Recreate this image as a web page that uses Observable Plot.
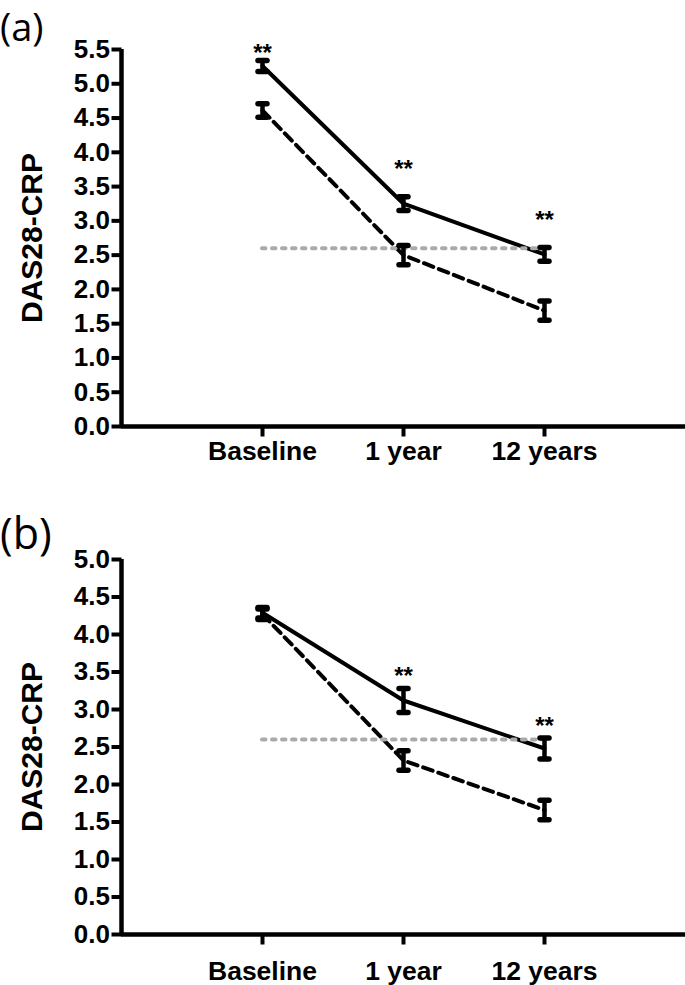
<!DOCTYPE html>
<html>
<head>
<meta charset="utf-8">
<script src="https://cdn.jsdelivr.net/npm/d3@7"></script>
<script src="https://cdn.jsdelivr.net/npm/@observablehq/plot@0.6"></script>
<style>
  body { margin: 0; background: white; }
  #fig { position: relative; width: 685px; height: 985px; background: white; overflow: hidden; }
  .plabel { position: absolute; left: 0; font-family: "Open Sans", sans-serif; color: black; }
  .panel { position: absolute; left: 0; }
</style>
</head>
<body>
<div id="fig">
  <div id="pa" class="panel" style="top:0px"></div>
  <div id="pb" class="panel" style="top:495px"></div>
  <div class="plabel" style="top:0px;font-size:38px;line-height:52px">(a)</div>
  <div class="plabel" style="top:503px;font-size:43px;line-height:59px">(b)</div>
</div>
<script>
// ---- data ----
const categories = ["Baseline", "1 year", "12 years"];
const yTitle = "DAS28-CRP";
const threshold = 2.6;

// panel (a)
const aSolidMean = [5.26, 3.25, 2.51];
const aSolidErr = [0.08, 0.10, 0.10];
const aDashedMean = [4.61, 2.50, 1.69];
const aDashedErr = [0.10, 0.14, 0.14];
const aStarIdx = [0, 1, 2];
const aStarY = [5.53, 3.84, 3.09];
const aYMax = 5.5;

// panel (b)
const bSolidMean = [4.29, 3.12, 2.48];
const bSolidErr = [0.07, 0.16, 0.14];
const bDashedMean = [4.27, 2.32, 1.66];
const bDashedErr = [0.07, 0.13, 0.13];
const bStarIdx = [1, 2];
const bStarY = [3.52, 2.85];
const bYMax = 5.0;

const FONT = "'Liberation Sans', Arial, sans-serif";

const capSymbol = { draw(ctx) { ctx.moveTo(-4.5, 0); ctx.lineTo(4.5, 0); } };
const yTickSymbol = { draw(ctx) { ctx.moveTo(-10, 0); ctx.lineTo(0, 0); } };
const xTickSymbol = { draw(ctx) { ctx.moveTo(0, 0); ctx.lineTo(0, 10); } };

function panel({solidMean, solidErr, dashedMean, dashedErr, starIdx, starY, yMax, height, marginTop, marginBottom, xPad}) {
  const solid = categories.map((c, i) => ({i, m: solidMean[i], e: solidErr[i]}));
  const dashed = categories.map((c, i) => ({i, m: dashedMean[i], e: dashedErr[i]}));
  const all = solid.concat(dashed);
  const caps = all.flatMap(d => [{i: d.i, y: d.m - d.e}, {i: d.i, y: d.m + d.e}]);
  const stars = starIdx.map((i, k) => ({i, y: starY[k]}));
  const yTicks = d3.range(0, yMax + 0.01, 0.5);
  const xTicks = categories.map((c, i) => i);
  return Plot.plot({
    width: 685,
    height,
    marginLeft: 121,
    marginRight: 0,
    marginTop,
    marginBottom,
    style: {fontFamily: FONT, color: "black", background: "white", overflow: "visible"},
    x: {domain: [-1, 3]},
    y: {domain: [0, yMax]},
    marks: [
      Plot.line(solid, {x: "i", y: "m", stroke: "black", strokeWidth: 4}),
      Plot.line(dashed, {x: "i", y: "m", stroke: "black", strokeWidth: 4, strokeDasharray: "10,6"}),
      Plot.ruleY([threshold], {x1: 0, x2: 2, stroke: "#aaaaaa", strokeWidth: 4, strokeDasharray: "3.5,6.5", strokeLinecap: "round"}),
      Plot.ruleX(all, {x: "i", y1: d => d.m - d.e, y2: d => d.m + d.e, stroke: "black", strokeWidth: 4.5}),
      Plot.dot(caps, {x: "i", y: "y", symbol: capSymbol, stroke: "black", fill: "none", strokeWidth: 5.5, strokeLinecap: "round"}),
      Plot.text(stars, {x: "i", y: "y", text: () => "**", fontSize: 24, fontWeight: "bold", dy: 6, fill: "black"}),
      Plot.ruleX([-1], {y1: 0, y2: yMax, stroke: "black", strokeWidth: 4.5}),
      Plot.ruleY([0], {x1: -1, x2: 3, stroke: "black", strokeWidth: 4.5}),
      Plot.dot(yTicks, {x: () => -1, y: d => d, symbol: yTickSymbol, stroke: "black", strokeWidth: 4, fill: "none"}),
      Plot.dot(xTicks, {x: d => d, y: () => 0, symbol: xTickSymbol, stroke: "black", strokeWidth: 4, fill: "none"}),
      Plot.axisY({ticks: yTicks, tickFormat: d3.format(".1f"), tickSize: 10, tickPadding: 1.5, stroke: "none",
        fontSize: 26, fontWeight: "bold", label: null}),
      Plot.axisX({ticks: xTicks, tickFormat: i => categories[i], tickSize: 10, tickPadding: xPad, stroke: "none",
        fontSize: 26.5, fontWeight: "bold", label: null}),
      Plot.text([yTitle], {frameAnchor: "left", rotate: -90, dx: -89, textAnchor: "middle", fontSize: 30, fontWeight: "bold", fill: "black"})
    ]
  });
}

document.getElementById("pa").appendChild(panel({
  solidMean: aSolidMean, solidErr: aSolidErr, dashedMean: aDashedMean, dashedErr: aDashedErr,
  starIdx: aStarIdx, starY: aStarY, yMax: aYMax, height: 480, marginTop: 49, marginBottom: 54, xPad: 5
}));
document.getElementById("pb").appendChild(panel({
  solidMean: bSolidMean, solidErr: bSolidErr, dashedMean: bDashedMean, dashedErr: bDashedErr,
  starIdx: bStarIdx, starY: bStarY, yMax: bYMax, height: 490, marginTop: 64, marginBottom: 51, xPad: 17
}));
</script>
</body>
</html>
